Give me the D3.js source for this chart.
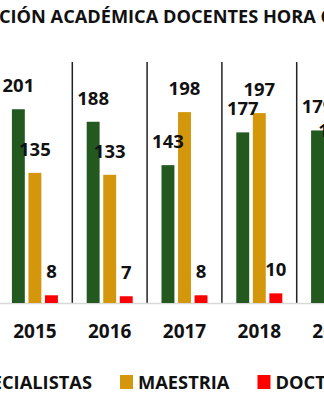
<!DOCTYPE html>
<html><head><meta charset="utf-8">
<script src="https://cdn.jsdelivr.net/npm/d3@7"></script>
<style>html,body{margin:0;padding:0;background:#fff;overflow:hidden}svg{display:block}</style>
</head><body>
<script>
const title = "FORMACIÓN ACADÉMICA DOCENTES HORA CÁTEDRA";
const categories = ["2015","2016","2017","2018","2019"];
const seriesNames = ["ESPECIALISTAS","MAESTRIA","DOCTORADO"];
const especialistas = [201,188,143,177,179];
const maestria = [135,133,198,197,155];
const doctorado = [8,7,8,10,9];
const colors = ["#23591f","#d4960a","#ff0000"];

const W = 324, H = 400;
const FONT = "'Open Sans', sans-serif";
const svg = d3.select("body").append("svg").attr("width", W).attr("height", H);

const step = 74.8, left = -2.5;
const x0 = d3.scaleBand().domain(categories).range([left, left + step*categories.length]).paddingInner(0.385).paddingOuter(0.1925);
const x1 = d3.scaleBand().domain(seriesNames).range([0, x0.bandwidth()]).paddingInner(0.22);
const y = d3.scaleLinear().domain([0, 250]).range([303, 62]);

const table = categories.map((c,i)=>({cat:c, vals:[especialistas[i], maestria[i], doctorado[i]]}));

// vertical separators
const bounds = d3.range(categories.length+1).map(i => left + step*i);
svg.append("g").selectAll("line").data(bounds).join("line")
  .attr("x1", d=>d).attr("x2", d=>d).attr("y1", y(250)).attr("y2", y(0))
  .attr("stroke", "#222").attr("stroke-width", 1.5);

// baseline
svg.append("line").attr("x1", left).attr("x2", left + step*categories.length)
  .attr("y1", y(0)+0.5).attr("y2", y(0)+0.5).attr("stroke", "#d9d9d9").attr("stroke-width", 1.5);

const g = svg.append("g").selectAll("g").data(table).join("g")
  .attr("transform", d => `translate(${x0(d.cat)},0)`);
g.selectAll("rect").data(d => d.vals.map((v,j)=>({s:seriesNames[j], v, j}))).join("rect")
  .attr("x", d => x1(d.s)).attr("width", x1.bandwidth())
  .attr("y", d => y(d.v)).attr("height", d => y(0) - y(d.v))
  .attr("fill", d => colors[d.j]);
g.selectAll("text").data(d => d.vals.map((v,j)=>({s:seriesNames[j], v, j}))).join("text")
  .attr("x", d => x1(d.s) + x1.bandwidth()/2).attr("y", d => y(d.v) - 17)
  .attr("text-anchor", "middle").attr("font-family", FONT).attr("font-weight", "bold")
  .attr("font-size", 18.5).attr("fill", "#111").text(d => d.v);

// x axis labels
const xAxis = d3.axisBottom(x0).tickSize(0).tickPadding(0);
const ax = svg.append("g").attr("transform", `translate(0,${y(0)})`).call(xAxis);
ax.select(".domain").remove();
ax.selectAll("text").attr("dy", null).attr("y", 35).attr("font-family", FONT)
  .attr("font-weight", "bold").attr("font-size", 19).attr("fill", "#111");

// title
const TS = 18.2;
const tt = svg.append("text").attr("font-family", FONT).attr("font-weight", "bold")
  .attr("font-size", TS).attr("fill", "#111").attr("y", 23);
const probe = svg.append("text").attr("font-family", FONT).attr("font-weight", "bold").attr("font-size", TS).text("FORMA");
const pre = probe.node().getComputedTextLength(); probe.remove();
tt.attr("x", -pre - 1).text(title);

// legend
const lg = svg.append("g").attr("font-family", FONT).attr("font-weight", "bold").attr("font-size", 18.3).attr("fill", "#111");
const items = lg.selectAll("g").data(seriesNames).join("g");
items.append("rect").attr("width", 13).attr("height", 14).attr("y", 375).attr("fill", (d,i)=>colors[i]);
items.append("text").attr("x", 18).attr("y", 388.5).text(d => d);
const widths = items.nodes().map(n => n.querySelector("text").getComputedTextLength());
const gap = 28;
let xs = [120 - gap - widths[0] - 18, 120];
xs.push(120 + 18 + widths[1] + gap);
items.attr("transform", (d,i)=>`translate(${xs[i]},0)`);
</script>
</body></html>
